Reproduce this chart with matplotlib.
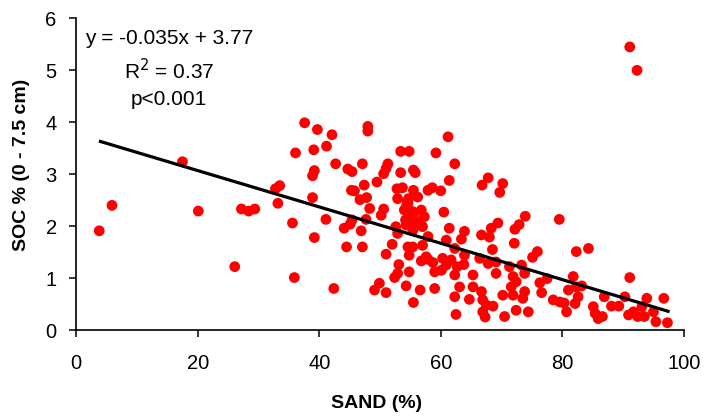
import numpy as np
import matplotlib
matplotlib.use('Agg')
import matplotlib.pyplot as plt

plt.rcParams['font.family'] = ['Liberation Sans', 'DejaVu Sans']

# SAND (%) and SOC % (0 - 7.5 cm), same order
sand_pct = [3.8, 5.9, 17.5, 20.1, 26.1, 27.2, 28.4, 29.4, 32.8, 33.5,
            33.2, 35.6, 35.9, 36.1, 37.6, 39.7, 42.1, 41.2, 48.0, 48.0,
            39.1, 53.4, 54.8, 59.2, 42.7, 44.7, 45.4, 47.1, 51.3, 39.2,
            38.9, 51.0, 50.6, 53.4, 55.5, 55.8, 49.5, 47.4, 45.3, 45.8,
            52.8, 53.7, 55.5, 57.9, 58.6, 38.9, 46.7, 47.8, 52.9, 54.7,
            56.2, 54.6, 48.3, 50.6, 50.2, 54.0, 55.4, 56.8, 55.1, 57.3,
            41.1, 45.4, 45.1, 47.7, 44.1, 46.9, 52.6, 52.9, 55.9, 39.2,
            44.5, 47.1, 52.0, 54.6, 55.4, 57.0, 51.0, 54.8, 56.8, 57.9,
            58.7, 59.0, 53.1, 54.8, 52.9, 52.4, 54.3, 49.9, 49.1, 51.0,
            56.6, 59.0, 42.4, 55.5, 54.4, 54.8, 54.3, 57.0, 55.5, 54.5,
            55.5, 54.2, 56.2, 55.4, 57.9, 62.7, 61.2, 62.3, 61.4, 67.8,
            66.8, 70.2, 69.7, 60.0, 60.5, 61.4, 63.9, 63.4, 60.9, 66.7,
            68.0, 68.3, 69.4, 72.2, 72.9, 73.9, 79.5, 72.1, 82.3, 75.9,
            75.1, 68.5, 63.9, 62.3, 57.6, 60.3, 61.7, 60.9, 63.8, 66.4,
            67.8, 69.1, 71.3, 73.3, 60.1, 62.3, 65.3, 69.1, 71.9, 73.8,
            76.3, 77.5, 63.1, 65.3, 66.7, 62.3, 64.7, 66.9, 70.2, 71.9,
            73.8, 73.5, 76.6, 67.5, 68.6, 66.9, 72.4, 74.4, 70.5, 62.5,
            78.5, 79.6, 80.7, 81.0, 81.8, 82.6, 82.1, 72.4, 71.6, 91.1,
            92.3, 84.3, 91.1, 82.3, 83.2, 80.3, 86.9, 88.1, 89.3, 90.3,
            85.1, 85.4, 86.6, 90.9, 91.7, 92.4, 93.5, 93.9, 93.1, 95.0,
            95.4, 97.3, 96.7, 67.3, 85.9]
soc_pct = [1.91, 2.40, 3.24, 2.29, 1.22, 2.33, 2.29, 2.33, 2.72, 2.78,
           2.44, 2.06, 1.01, 3.41, 3.99, 3.86, 3.76, 3.54, 3.92, 3.83,
           3.47, 3.44, 3.44, 3.41, 3.20, 3.10, 3.05, 3.20, 3.20, 3.07,
           2.97, 3.11, 3.01, 3.03, 3.08, 3.03, 2.85, 2.79, 2.69, 2.68,
           2.72, 2.74, 2.69, 2.69, 2.74, 2.55, 2.51, 2.55, 2.53, 2.53,
           2.56, 2.44, 2.34, 2.33, 2.21, 2.31, 2.28, 2.31, 2.18, 2.18,
           2.13, 2.12, 2.04, 2.13, 1.96, 1.91, 1.99, 1.86, 2.02, 1.78,
           1.60, 1.60, 1.65, 1.60, 1.60, 1.63, 1.46, 1.44, 1.33, 1.36,
           1.30, 1.12, 1.26, 1.12, 1.09, 1.01, 0.85, 0.90, 0.77, 0.72,
           0.77, 0.80, 0.80, 0.53, 2.40, 2.15, 2.02, 1.99, 1.96, 2.47,
           2.21, 2.12, 2.08, 1.92, 1.80, 1.22, 3.72, 3.20, 2.88, 2.93,
           2.79, 2.82, 2.65, 2.68, 2.27, 1.96, 1.90, 1.75, 1.73, 1.83,
           1.79, 1.96, 2.06, 1.94, 2.03, 2.19, 2.13, 1.67, 1.51, 1.51,
           1.40, 1.55, 1.44, 1.57, 1.41, 1.38, 1.35, 1.25, 1.26, 1.38,
           1.28, 1.31, 1.22, 1.25, 1.15, 1.06, 1.06, 1.09, 1.03, 1.09,
           0.91, 0.99, 0.83, 0.83, 0.74, 0.64, 0.59, 0.58, 0.67, 0.67,
           0.74, 0.61, 0.72, 0.48, 0.46, 0.35, 0.38, 0.35, 0.26, 0.30,
           0.58, 0.54, 0.35, 0.77, 1.03, 0.64, 0.51, 0.93, 0.83, 5.45,
           5.00, 1.57, 1.01, 0.83, 0.85, 0.52, 0.64, 0.46, 0.46, 0.64,
           0.45, 0.32, 0.26, 0.29, 0.35, 0.26, 0.26, 0.61, 0.45, 0.35,
           0.16, 0.14, 0.61, 0.25, 0.22]

# fitted trend line shown on the chart
slope = -0.035
intercept = 3.77
fit_range = [4.0, 97.4]
fit_labels = ['y = -0.035x + 3.77', 'R$^2$ = 0.37', 'p<0.001']

x_ticks = [0, 20, 40, 60, 80, 100]
y_ticks = [0, 1, 2, 3, 4, 5, 6]

W, H = 705, 418
fig = plt.figure(figsize=(W / 100, H / 100), dpi=100)
ax = fig.add_axes([0.108, 0.2105, 0.862, 0.7455])

ax.scatter(sand_pct, soc_pct, s=60, c='#ff0000', edgecolors='none', zorder=2)

xf = np.array(fit_range)
ax.plot(xf, slope * xf + intercept, color='black', lw=2.3, zorder=3)

ax.text(15.3, 5.62, fit_labels[0], ha='center', va='center', fontsize=15)
ax.text(15.3, 5.0, fit_labels[1], ha='center', va='center', fontsize=15)
ax.text(15.2, 4.44, fit_labels[2], ha='center', va='center', fontsize=15)

ax.set_xlim(0, 100)
ax.set_ylim(0, 6)
ax.set_xticks(x_ticks)
ax.set_yticks(y_ticks)
ax.tick_params(labelsize=14.5, width=1.1, length=5, direction='out')
ax.tick_params(axis='x', pad=12)
ax.tick_params(axis='y', pad=9)
ax.spines['top'].set_visible(False)
ax.spines['right'].set_visible(False)
for side in ['left', 'bottom']:
    ax.spines[side].set_linewidth(1.2)

# axis titles placed by pixel centre
fig.text(377 / W, 1 - 404 / H, 'SAND (%)', ha='center', va='center',
         fontsize=14, fontweight='bold')
fig.text(22 / W, 1 - 165 / H, 'SOC % (0 - 7.5 cm)', ha='center', va='center',
         rotation=90, fontsize=14, fontweight='bold')

fig.savefig('out.png', dpi=100)
